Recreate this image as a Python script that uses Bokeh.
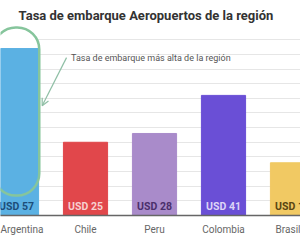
from bokeh.plotting import figure
from bokeh.models import ColumnDataSource, FixedTicker, BoxAnnotation, Arrow, OpenHead, Label
from bokeh.core.properties import value
from bokeh.embed import file_html
from bokeh.resources import INLINE

categories = ["Argentina", "Chile", "Peru", "Colombia", "Brasil"]
values = [57, 25, 28, 41, 18]
value_labels = ["USD 57", "USD 25", "USD 28", "USD 41", "USD 18"]
bar_colors = ["#5bb1e3", "#e1474b", "#a98bca", "#6a4fd6", "#f1c963"]
label_colors = ["#1c4d7a", "#f7d0d0", "#4b2f6c", "#ddd4f7", "#5a4512"]
title_text = "Tasa de embarque Aeropuertos de la región"
note_text = "Tasa de embarque más alta de la región"

xs = list(range(len(categories)))
src = ColumnDataSource(dict(x=xs, top=values, color=bar_colors,
                            lab=value_labels, lcol=label_colors))

p = figure(width=300, height=250, x_range=(-0.232, 4.116), y_range=(0, 73.4),
           output_backend="svg", toolbar_location=None,
           min_border_left=0, min_border_right=0, min_border_top=0, min_border_bottom=35)
p.outline_line_color = None
p.background_fill_color = "white"
p.yaxis.visible = False
p.xgrid.visible = False
p.ygrid.ticker = FixedTicker(ticks=list(range(5, 61, 5)))
p.ygrid.grid_line_color = "#e6e6e6"
p.ygrid.grid_line_width = 1

w = 0.64
# white fill of highlight shape (behind bars, over grid)
hl_fill = BoxAnnotation(left=xs[0] - w / 2 - 0.01, right=xs[0] + w / 2 + 0.01,
                        top=values[0] + 7.2, bottom=6.8, border_radius=22,
                        fill_color="white", fill_alpha=1, line_color=None, level="underlay")
p.add_layout(hl_fill)

p.vbar(x="x", top="top", width=w, color="color", source=src)

hl_line = BoxAnnotation(left=xs[0] - w / 2 - 0.01, right=xs[0] + w / 2 + 0.01,
                        top=values[0] + 7.2, bottom=6.8, border_radius=22,
                        fill_alpha=0, line_color="#86c59c", line_alpha=1, line_width=2.5)
p.add_layout(hl_line)

p.text(x="x", y=1.0, text="lab", text_color="lcol", source=src,
       text_align="center", text_baseline="bottom", text_font_size="10.5px",
       text_font_style="bold", text_font=value("Roboto"))

p.add_layout(Arrow(x_start=0.725, y_start=53.9, x_end=0.372, y_end=37.5,
                   line_color="#8fbfa5", line_width=1.2,
                   end=OpenHead(size=7, line_color="#8fbfa5", line_width=1.2)))
p.add_layout(Label(x=0.79, y=53.9, text=note_text, text_font_size="9px",
                   text_color="#555555", text_baseline="middle", text_font="Roboto"))
p.add_layout(Label(x=0.03, y=68.2, text=title_text, text_font_size="13px",
                   text_font_style="bold", text_color="#333333",
                   text_baseline="middle", text_font="Roboto"))

p.xaxis.ticker = FixedTicker(ticks=xs)
p.xaxis.major_label_overrides = {i: c for i, c in enumerate(categories)}
p.xaxis.major_tick_line_color = None
p.xaxis.minor_tick_line_color = None
p.xaxis.axis_line_color = "#666666"
p.xaxis.axis_line_width = 1.5
p.xaxis.major_label_text_font = "Roboto"
p.xaxis.major_label_text_font_size = "10px"
p.xaxis.major_label_text_color = "#666666"
p.xaxis.major_label_standoff = 2

open("out.html", "w").write(file_html(p, INLINE))
